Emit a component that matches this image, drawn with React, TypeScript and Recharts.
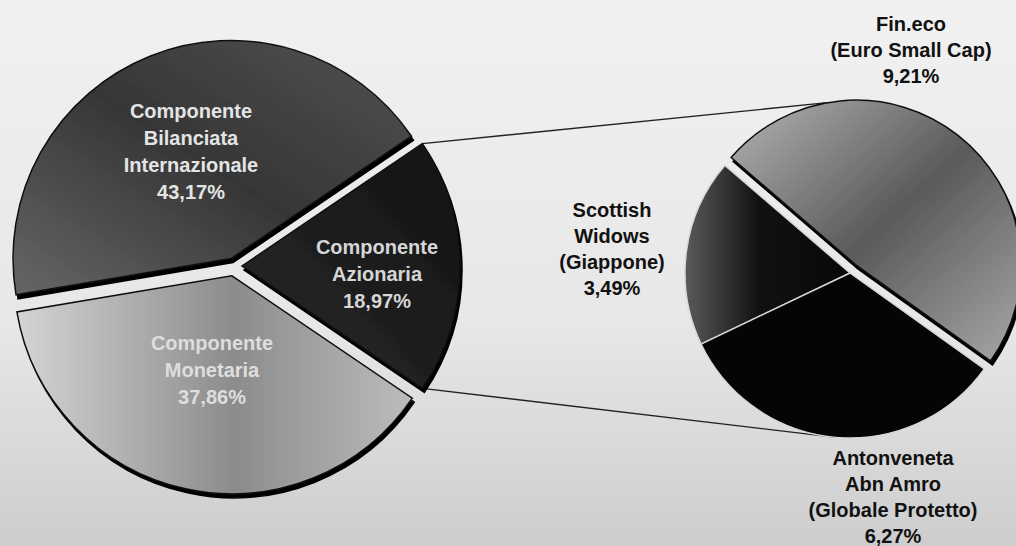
import React from 'react';
import { PieChart, Pie, Cell } from 'recharts';

// --- Data ---

const LEFT_NAMES = ['Componente Azionaria', 'Componente Bilanciata Internazionale', 'Componente Monetaria'];
const LEFT_VALUES = [18.97, 43.17, 37.86];
const LEFT_LABEL_LINES = [
    ['Componente', 'Azionaria'],
    ['Componente', 'Bilanciata', 'Internazionale'],
    ['Componente', 'Monetaria'],
];

const RIGHT_NAMES = ['Fin.eco (Euro Small Cap)', 'Scottish Widows (Giappone)', 'Antonveneta Abn Amro (Globale Protetto)'];
const RIGHT_VALUES = [9.21, 3.49, 6.27];
const RIGHT_LABEL_LINES = [
    ['Fin.eco', '(Euro Small Cap)'],
    ['Scottish', 'Widows', '(Giappone)'],
    ['Antonveneta', 'Abn Amro', '(Globale Protetto)'],
];

// --- Layout / style ---

const W = 1016;
const H = 546;
const RAD = Math.PI / 180;
const FONT = '"Liberation Sans", Arial, Helvetica, sans-serif';

const LEFT = { cx: 234, cy: 266, r: 218, start: -LEFT_VALUES[0] / 100 * 180 };
const RIGHT = { cx: 850, cy: 273, r: 165, start: -35.5 };

const LEFT_EXPLODE = [8, 8, 10];
const RIGHT_EXPLODE = [10, 0, 0];

const LEFT_FILLS = ['url(#gAz)', 'url(#gBil)', 'url(#gMon)'];
const RIGHT_FILLS = ['url(#gFin)', 'url(#gSco)', '#050505'];
const LEFT_TEXT = ['#d6d6d6', '#e4e4e4', '#dedede'];
const LEFT_STROKE = ['#111', '#111', '#111'];
const RIGHT_STROKE = ['#111', '#d8d8d8', '#d8d8d8'];
const RIGHT_SHADOW = [true, false, false];

// label block centres, relative to the pie centre
const LEFT_LABEL_POS = [[143, 7.5], [-43, -114.5], [-22, 103.5]];
const RIGHT_LABEL_POS = [[61, -223.5], [-238, -24], [43, 224]];

const fmt = (v: number) => `${v.toFixed(2).replace('.', ',')}%`;

const midAngles = (values: number[], start: number) => {
    const total = values.reduce((a, b) => a + b, 0);
    let acc = start;
    return values.map((v) => {
        const span = (v / total) * 360;
        const m = acc + span / 2;
        acc += span;
        return m;
    });
};

const polar = (cx: number, cy: number, r: number, a: number) => ({
    x: cx + r * Math.cos(a * RAD),
    y: cy - r * Math.sin(a * RAD),
});

const leftData = LEFT_NAMES.map((name, i) => ({ name, value: LEFT_VALUES[i] }));
const rightData = RIGHT_NAMES.map((name, i) => ({ name, value: RIGHT_VALUES[i] }));

const TextBlock = ({ x, y, lines, color, lh }: { x: number; y: number; lines: string[]; color: string; lh: number }) => (
    <text x={x} y={y} textAnchor="middle" fill={color} fontFamily={FONT} fontWeight="bold" fontSize={20}>
        {lines.map((l, i) => (
            <tspan key={i} x={x} y={y + (i - (lines.length - 1) / 2) * lh} dominantBaseline="central">
                {l}
            </tspan>
        ))}
    </text>
);

const renderLayers = (
    data: { name: string; value: number }[],
    geo: { cx: number; cy: number; r: number; start: number },
    explode: number[],
    fills: string[],
    strokes: string[],
    shadow: boolean[],
    labelPos: number[][],
    labelLines: string[][],
    textColors: string[],
    lh: number,
    prefix: string
) => {
    const mids = midAngles(data.map((d) => d.value), geo.start);
    return data.map((_, k) => {
        const off = polar(0, 0, explode[k], mids[k]);
        const lines = [...labelLines[k], fmt(data[k].value)];
        return (
            <Pie
                key={`${prefix}-${k}`}
                data={data}
                dataKey="value"
                nameKey="name"
                cx={geo.cx + off.x}
                cy={geo.cy + off.y}
                outerRadius={geo.r}
                startAngle={geo.start}
                endAngle={geo.start + 360}
                isAnimationActive={false}
                labelLine={false}
                label={(p: any) =>
                    p.index === k ? (
                        <TextBlock
                            x={geo.cx + labelPos[k][0]}
                            y={geo.cy + labelPos[k][1]}
                            lines={lines}
                            color={textColors[k]}
                            lh={lh}
                        />
                    ) : (
                        <g />
                    )
                }
            >
                {data.map((d, i) => (
                    <Cell
                        key={`c-${i}`}
                        fill={i === k ? fills[i] : 'none'}
                        stroke={i === k ? strokes[i] : 'none'}
                        strokeWidth={i === k ? 1.5 : 0}
                        filter={i === k && shadow[i] ? 'url(#sliceShadow)' : undefined}
                    />
                ))}
            </Pie>
        );
    });
};

export default function App() {
    const leftMids = midAngles(LEFT_VALUES, LEFT.start);
    const rightMids = midAngles(RIGHT_VALUES, RIGHT.start);
    const azOff = polar(0, 0, LEFT_EXPLODE[0], leftMids[0]);
    const finOff = polar(0, 0, RIGHT_EXPLODE[0], rightMids[0]);
    const azSpan = (LEFT_VALUES[0] / 100) * 180;

    const upA = polar(LEFT.cx + azOff.x, LEFT.cy + azOff.y, LEFT.r, azSpan);
    const loA = polar(LEFT.cx + azOff.x, LEFT.cy + azOff.y, LEFT.r, -azSpan);
    const upB = polar(RIGHT.cx + finOff.x, RIGHT.cy + finOff.y, RIGHT.r, 100);
    const loB = polar(RIGHT.cx, RIGHT.cy, RIGHT.r, 265);

    return (
        <div style={{ position: 'absolute', left: 0, top: 0, width: W, height: H, overflow: 'hidden' }}>
            <svg width={W} height={H} style={{ position: 'absolute', left: 0, top: 0 }}>
                <defs>
                    <linearGradient id="bg" x1="0" y1="0" x2="0" y2="1">
                        <stop offset="0" stopColor="#f1f1f1" />
                        <stop offset="0.6" stopColor="#e7e7e7" />
                        <stop offset="1" stopColor="#cdcdcd" />
                    </linearGradient>
                    <linearGradient id="gBil" x1="0" y1="1" x2="1" y2="0">
                        <stop offset="0" stopColor="#666" />
                        <stop offset="0.5" stopColor="#363636" />
                        <stop offset="1" stopColor="#525252" />
                    </linearGradient>
                    <linearGradient id="gAz" x1="0" y1="1" x2="1" y2="0">
                        <stop offset="0" stopColor="#2a2a2a" />
                        <stop offset="1" stopColor="#121212" />
                    </linearGradient>
                    <linearGradient id="gMon" x1="0" y1="0" x2="1" y2="0">
                        <stop offset="0" stopColor="#d4d4d4" />
                        <stop offset="0.55" stopColor="#8c8c8c" />
                        <stop offset="1" stopColor="#bcbcbc" />
                    </linearGradient>
                    <linearGradient id="gFin" x1="0" y1="0" x2="1" y2="1">
                        <stop offset="0" stopColor="#b4b4b4" />
                        <stop offset="0.5" stopColor="#5a5a5a" />
                        <stop offset="1" stopColor="#a8a8a8" />
                    </linearGradient>
                    <linearGradient id="gSco" x1="0" y1="0" x2="1" y2="0">
                        <stop offset="0" stopColor="#5a5a5a" />
                        <stop offset="0.45" stopColor="#111" />
                        <stop offset="1" stopColor="#080808" />
                    </linearGradient>
                    <filter id="sliceShadow" x="-10%" y="-10%" width="120%" height="120%">
                        <feDropShadow dx="2" dy="4" stdDeviation="0.6" floodColor="#000" floodOpacity="1" />
                    </filter>
                </defs>
                <rect x={0} y={0} width={W} height={H} fill="url(#bg)" />
                <line x1={upA.x} y1={upA.y} x2={upB.x} y2={upB.y} stroke="#222" strokeWidth={1.3} />
                <line x1={loA.x} y1={loA.y} x2={loB.x} y2={loB.y} stroke="#222" strokeWidth={1.3} />
            </svg>
            <div style={{ position: 'absolute', left: 0, top: 0 }}>
                <PieChart width={W} height={H} margin={{ top: 0, right: 0, bottom: 0, left: 0 }}>
                    {renderLayers(
                        leftData, LEFT, LEFT_EXPLODE, LEFT_FILLS, LEFT_STROKE, [true, true, true],
                        LEFT_LABEL_POS, LEFT_LABEL_LINES, LEFT_TEXT, 27, 'l'
                    )}
                    {renderLayers(
                        rightData, RIGHT, RIGHT_EXPLODE, RIGHT_FILLS, RIGHT_STROKE, RIGHT_SHADOW,
                        RIGHT_LABEL_POS, RIGHT_LABEL_LINES, ['#111', '#111', '#111'], 26, 'r'
                    )}
                </PieChart>
            </div>
        </div>
    );
}
